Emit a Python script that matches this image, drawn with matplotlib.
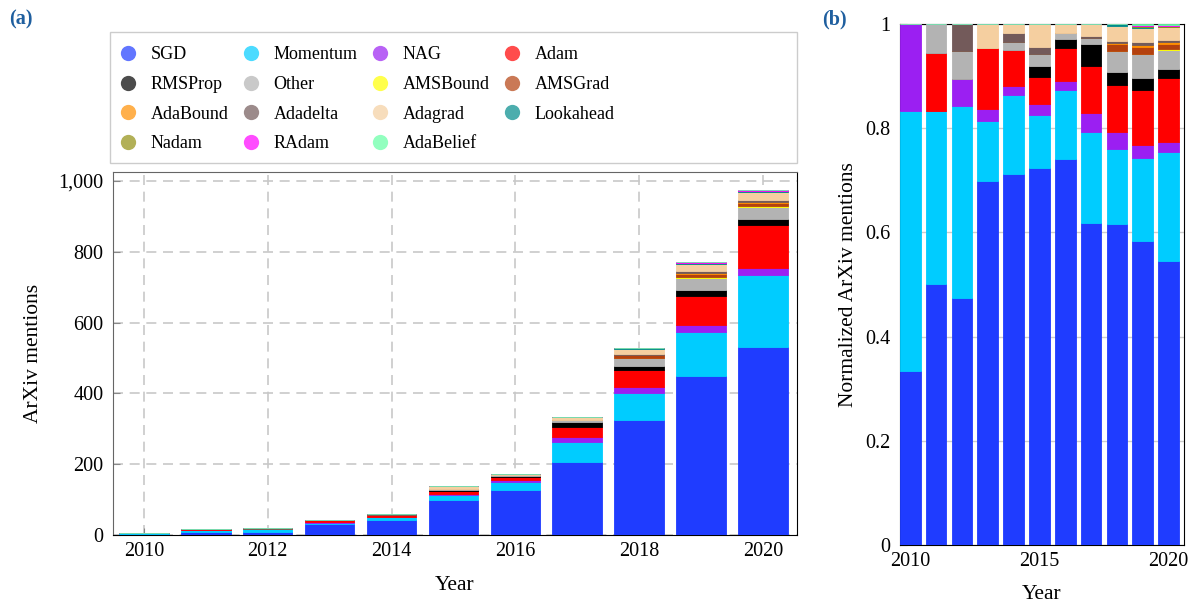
import numpy as np
import matplotlib.pyplot as plt
from matplotlib.lines import Line2D
from matplotlib.patches import Rectangle

plt.rcParams['font.family'] = ['Liberation Serif', 'DejaVu Serif']
plt.rcParams['font.size'] = 14.5

years = [2010, 2011, 2012, 2013, 2014, 2015, 2016, 2017, 2018, 2019, 2020]

# arXiv mentions per optimizer and year (stacking order, bottom to top)
optimizers = ['SGD', 'Momentum', 'NAG', 'Adam', 'RMSProp', 'Other', 'AMSBound',
              'AMSGrad', 'AdaBound', 'Adadelta', 'Adagrad', 'Lookahead', 'Nadam',
              'RAdam', 'AdaBelief']
sgd = [2, 9, 9, 30, 42, 99, 128, 206, 325, 450, 531]
momentum = [3, 6, 7, 5, 9, 14, 23, 58, 76, 124, 204]
nag = [1, 0, 1, 1, 1, 3, 3, 12, 17, 18, 19]
adam = [0, 2, 0, 5, 4, 7, 11, 30, 47, 82, 120]
rmsprop = [0, 0, 0, 0, 0, 3, 3, 14, 13, 18, 17]
other = [0, 1, 1, 0, 1, 3, 2, 4, 22, 35, 35]
amsbound = [0, 0, 0, 0, 0, 0, 0, 0, 0, 1, 2]
amsgrad = [0, 0, 0, 0, 0, 0, 0, 0, 7, 10, 10]
adabound = [0, 0, 0, 0, 0, 0, 0, 0, 1, 3, 3]
adadelta = [0, 0, 1, 0, 1, 2, 0, 1, 2, 4, 4]
adagrad = [0, 0, 0, 2, 1, 6, 3, 8, 15, 21, 24]
lookahead = [0, 0, 0, 0, 0, 0, 0, 0, 2, 2, 1]
nadam = [0, 0, 0, 0, 0, 0, 0, 0, 0, 1, 1]
radam = [0, 0, 0, 0, 0, 0, 0, 0, 0, 2, 2]
adabelief = [0, 0, 0, 0, 0, 0, 0, 0, 0, 1, 2]

series = [sgd, momentum, nag, adam, rmsprop, other, amsbound, amsgrad, adabound,
          adadelta, adagrad, lookahead, nadam, radam, adabelief]
colors = ['#1f3cff', '#00ccff', '#9b1ff2', '#ff0000', '#000000', '#b3b3b3', '#ffff00',
          '#b4410e', '#ff8f00', '#735a5a', '#f5cfa0', '#008b8b', '#928f10',
          '#ff00ff', '#64ffa5']

counts = np.array(series, dtype=float)
totals = counts.sum(axis=0)
shares = counts / totals

fig = plt.figure(figsize=(11.93, 6.05), dpi=100)
ax1 = fig.add_axes([0.0947, 0.1157, 0.5733, 0.600])
ax2 = fig.add_axes([0.7544, 0.0992, 0.2381, 0.8612])

x = np.array(years)

# (a) absolute counts
bottom = np.zeros(len(years))
for vals, c in zip(counts, colors):
    ax1.bar(x, vals, 0.8, bottom=bottom, color=c, edgecolor=c, linewidth=0.6, zorder=3)
    bottom += vals
ax1.set_xlim(2009.5, 2020.55)
ax1.set_ylim(0, 1025)
ax1.set_xticks([2010, 2012, 2014, 2016, 2018, 2020])
ax1.set_yticks([0, 200, 400, 600, 800, 1000])
ax1.set_yticklabels(['0', '200', '400', '600', '800', '1,000'])
ax1.grid(True, color='#c8c8c8', linestyle=(0, (6, 4)), linewidth=1.2, zorder=0)
ax1.tick_params(direction='in', color='#888888', length=5)
ax1.tick_params(axis='y', pad=7)
ax1.tick_params(axis='x', pad=5)
ax1.set_xlabel('Year', fontsize=15.5, labelpad=11)
ax1.set_ylabel('ArXiv mentions', fontsize=15.5, labelpad=11)
for s in ['left', 'top']:
    ax1.spines[s].set_color('#666666')

# (b) normalized
bottom = np.zeros(len(years))
for vals, c in zip(shares, colors):
    ax2.bar(x, vals, 0.8, bottom=bottom, color=c, edgecolor=c, linewidth=0.6, zorder=3)
    bottom += vals
ax2.set_xlim(2009.6, 2020.6)
ax2.set_ylim(0, 1.0)
ax2.set_xticks([2010, 2015, 2020])
ax2.set_yticks([0, 0.2, 0.4, 0.6, 0.8, 1.0])
ax2.set_yticklabels(['0', '0.2', '0.4', '0.6', '0.8', '1'])
ax2.yaxis.grid(True, color='#cccccc', linewidth=1, zorder=0)
ax2.tick_params(direction='in', color='#888888', length=5)
ax2.tick_params(axis='y', pad=7)
ax2.tick_params(axis='x', pad=5)
ax2.set_xlabel('Year', fontsize=15.5, labelpad=10)
ax2.set_ylabel('Normalized ArXiv mentions', fontsize=15.5, labelpad=5)

# legend, row-major like the original, inside a fixed box
handles = [Line2D([], [], marker='o', linestyle='none', markersize=11,
                  markerfacecolor=c, markeredgecolor='none', alpha=0.7)
           for c in colors]
order = [i for col in range(4) for i in range(col, 15, 4)]
leg = fig.legend([handles[i] for i in order], [optimizers[i] for i in order],
                 ncol=4, loc='upper left', fontsize=13,
                 bbox_to_anchor=(0.0922, 0.9471), borderaxespad=0,
                 frameon=False, handlelength=0.4, handletextpad=1.05,
                 labelspacing=0.7, borderpad=0.8, columnspacing=1.05)
fig.patches.append(Rectangle((0.0922, 0.7306), 0.5759, 0.2165, transform=fig.transFigure,
                             facecolor='none', edgecolor='#cccccc', linewidth=1))

fig.text(0.008, 0.968, '(a)', fontweight='bold', color='#1f5f9f', ha='left', va='center')
fig.text(0.689, 0.968, '(b)', fontweight='bold', color='#1f5f9f', ha='left', va='center')

plt.savefig('out.png', dpi=100)
